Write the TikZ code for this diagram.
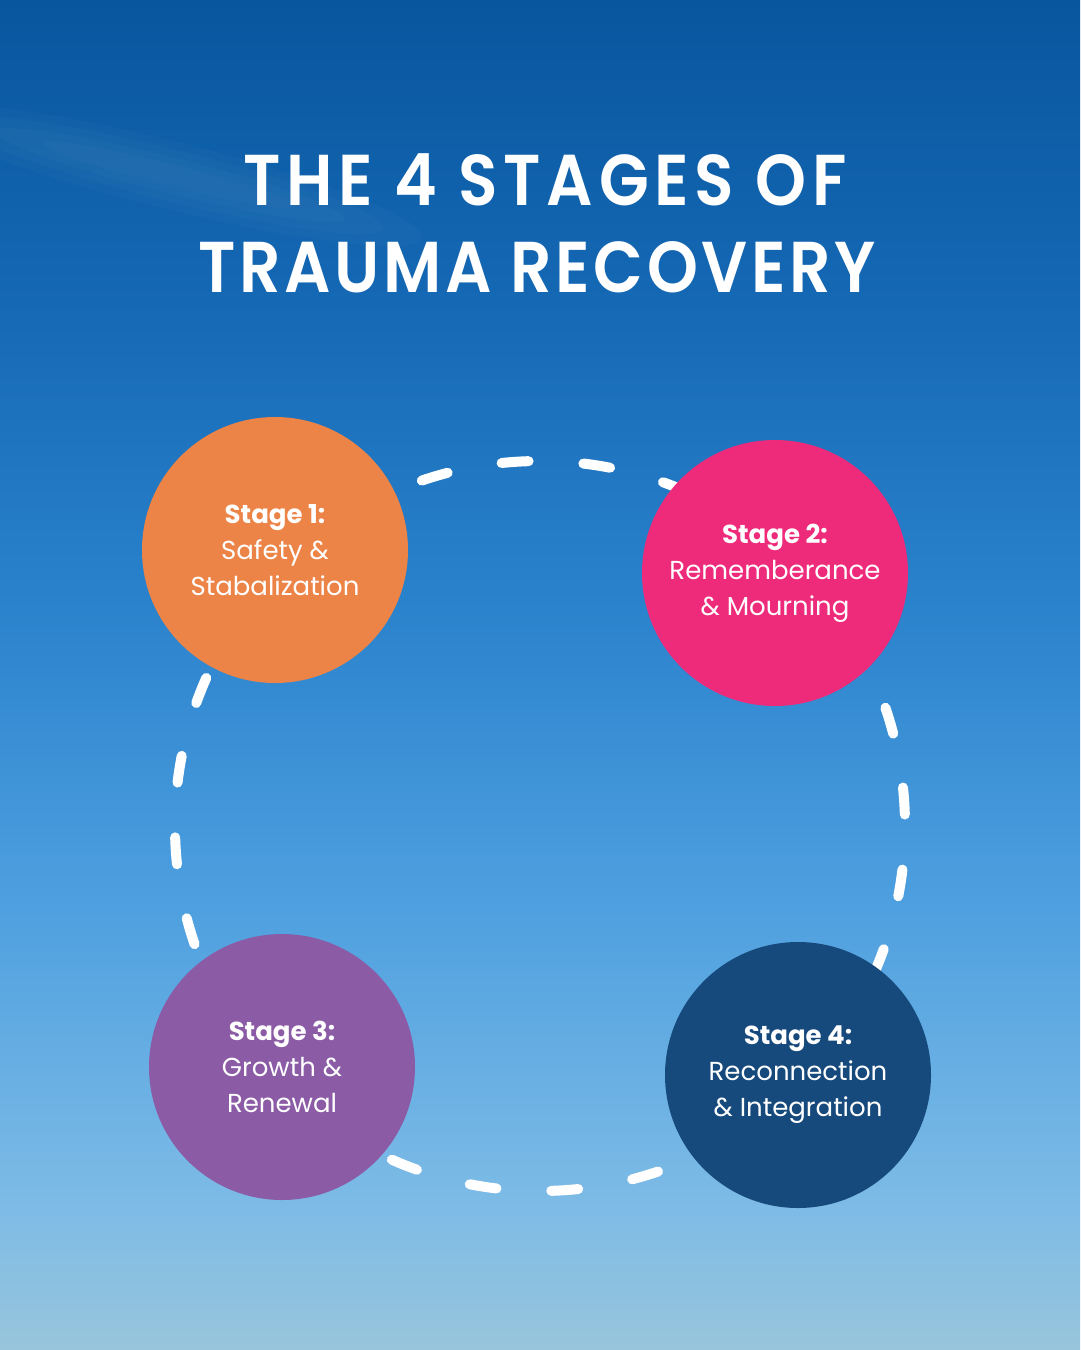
\documentclass[tikz,border=0pt]{standalone}
\usepackage{fontspec}
\setmainfont{Poppins}
\newfontfamily\titlefont{Poppins SemiBold}[FakeStretch=0.9, LetterSpace=8]
\newfontfamily\titlefontb{Poppins SemiBold}[FakeStretch=0.9, LetterSpace=5]
\definecolor{skyA}{RGB}{152,197,220}
\definecolor{skyB}{RGB}{125,187,230}
\definecolor{skyC}{RGB}{77,159,223}
\definecolor{skyD}{RGB}{42,130,204}
\definecolor{skyE}{RGB}{21,104,180}
\definecolor{skyF}{RGB}{8,86,158}
\definecolor{stOrange}{RGB}{236,132,71}
\definecolor{stPink}{RGB}{238,42,123}
\definecolor{stPurple}{RGB}{139,91,166}
\definecolor{stNavy}{RGB}{23,74,124}
\pgfdeclareverticalshading{sky}{100bp}{color(0bp)=(skyA); color(25bp)=(skyA); color(30.5bp)=(skyB); color(41.7bp)=(skyC); color(52.8bp)=(skyD); color(63.9bp)=(skyE); color(75bp)=(skyF); color(100bp)=(skyF)}
\tikzset{
  stage/.style={circle, minimum size=266pt, inner sep=0pt, text=white, align=center,
    font=\fontsize{26}{36}\selectfont},
  titletext/.style={text=white, anchor=base, inner sep=0pt,
    font=\titlefont\fontsize{72}{87}\selectfont},
  ring/.style={white, line width=10pt, line cap=round,
    dash pattern=on 27pt off 54.906pt, dash phase=70.4pt}
}
\begin{document}
\begin{tikzpicture}[x=1pt,y=-1pt]
\useasboundingbox (0,0) rectangle (1080,1350);
\shade[shading=sky] (0,0) rectangle (1080,1350);
% faint cloud streak
\begin{scope}[shift={(170,175)}, rotate=-14]
  \foreach \a/\b in {260/34, 220/26, 180/18, 130/11}
    \fill[white, opacity=0.018] (0,0) ellipse [x radius=\a, y radius=\b];
\end{scope}
% title
\node[titletext] (t1) at (545,205) {THE 4 STAGES OF};
\node[titletext, font=\titlefontb\fontsize{72}{87}\selectfont] (t2) at (537,292) {TRAUMA RECOVERY};
% dashed cycle
\coordinate (ringc) at (540,826);
\draw[ring] (ringc) circle [radius=365pt];
% stages
\node[stage, fill=stOrange] (s1) at (275,550) {\textbf{Stage 1:}\\Safety \&\\Stabalization};
\node[stage, fill=stPink] (s2) at (775,573) {\textbf{Stage 2:}\\Rememberance\\\& Mourning};
\node[stage, fill=stPurple] (s3) at (282,1067) {\textbf{Stage 3:}\\Growth \&\\Renewal};
\node[stage, fill=stNavy] (s4) at (798,1075) {\textbf{Stage 4:}\\Reconnection\\\& Integration};
\end{tikzpicture}
\end{document}
